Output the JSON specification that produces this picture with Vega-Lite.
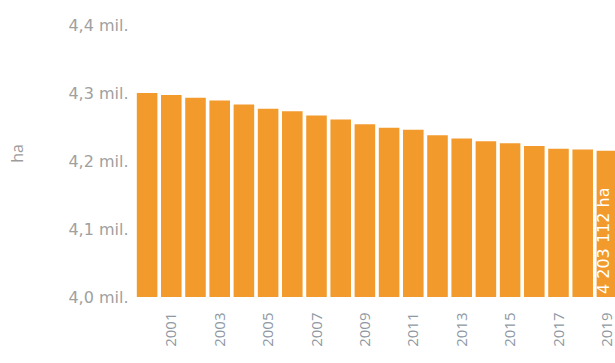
{
  "$schema": "https://vega.github.io/schema/vega-lite/v6.json",
  "autosize": "none",
  "padding": {"left": 135, "top": 25, "right": 0, "bottom": 66},
  "width": 480,
  "height": 272,
  "background": "white",
  "config": {"view": {"stroke": null}, "font": "Open Sans"},
  "data": {"values": [
    {"year": 2000, "area": 4300000, "label": ""},
    {"year": 2001, "area": 4297000, "label": ""},
    {"year": 2002, "area": 4293000, "label": ""},
    {"year": 2003, "area": 4289000, "label": ""},
    {"year": 2004, "area": 4283000, "label": ""},
    {"year": 2005, "area": 4277000, "label": ""},
    {"year": 2006, "area": 4273000, "label": ""},
    {"year": 2007, "area": 4267000, "label": ""},
    {"year": 2008, "area": 4261000, "label": ""},
    {"year": 2009, "area": 4254000, "label": ""},
    {"year": 2010, "area": 4249000, "label": ""},
    {"year": 2011, "area": 4246000, "label": ""},
    {"year": 2012, "area": 4238000, "label": ""},
    {"year": 2013, "area": 4233000, "label": ""},
    {"year": 2014, "area": 4229000, "label": ""},
    {"year": 2015, "area": 4226000, "label": ""},
    {"year": 2016, "area": 4222000, "label": ""},
    {"year": 2017, "area": 4218000, "label": ""},
    {"year": 2018, "area": 4217000, "label": ""},
    {"year": 2019, "area": 4215000, "label": "4 203 112 ha"}
  ]},
  "encoding": {
    "x": {
      "field": "year", "type": "ordinal",
      "scale": {"range": [0, 484], "paddingInner": 0.15, "paddingOuter": 0.075},
      "axis": {
        "title": null, "values": [2001, 2003, 2005, 2007, 2009, 2011, 2013, 2015, 2017, 2019],
        "labelAngle": -90, "labelPadding": 15, "ticks": false, "domain": false,
        "labelFontSize": 15, "labelColor": "#8f99a4", "labelFont": "Open Sans"
      }
    }
  },
  "layer": [
    {
      "mark": {"type": "bar", "color": "#F39A2C"},
      "encoding": {
        "y": {
          "field": "area", "type": "quantitative",
          "scale": {"domain": [4000000, 4400000], "zero": false, "nice": false},
          "axis": {
            "values": [4000000, 4100000, 4200000, 4300000, 4400000],
            "labelExpr": "replace(format(datum.value / 1000000, '.1f'), '.', ',') + ' mil.'",
            "grid": false, "ticks": false, "domain": false,
            "labelPadding": 7, "labelFontSize": 16, "labelColor": "#a0a0a0", "labelFont": "DejaVu Sans",
            "title": "ha", "titleFontSize": 16, "titleFontWeight": "normal", "titleColor": "#9c9c9c",
            "titleFont": "Open Sans", "titleX": -118, "titleY": 128, "titleAlign": "center", "titleBaseline": "middle"
          }
        },
        "y2": {"datum": 4000000}
      }
    },
    {
      "mark": {"type": "text", "angle": 270, "align": "left", "baseline": "middle", "dx": 3, "dy": -3, "color": "white", "fontSize": 16, "font": "DejaVu Sans"},
      "encoding": {
        "y": {"datum": 4000000},
        "text": {"field": "label"}
      }
    }
  ]
}
